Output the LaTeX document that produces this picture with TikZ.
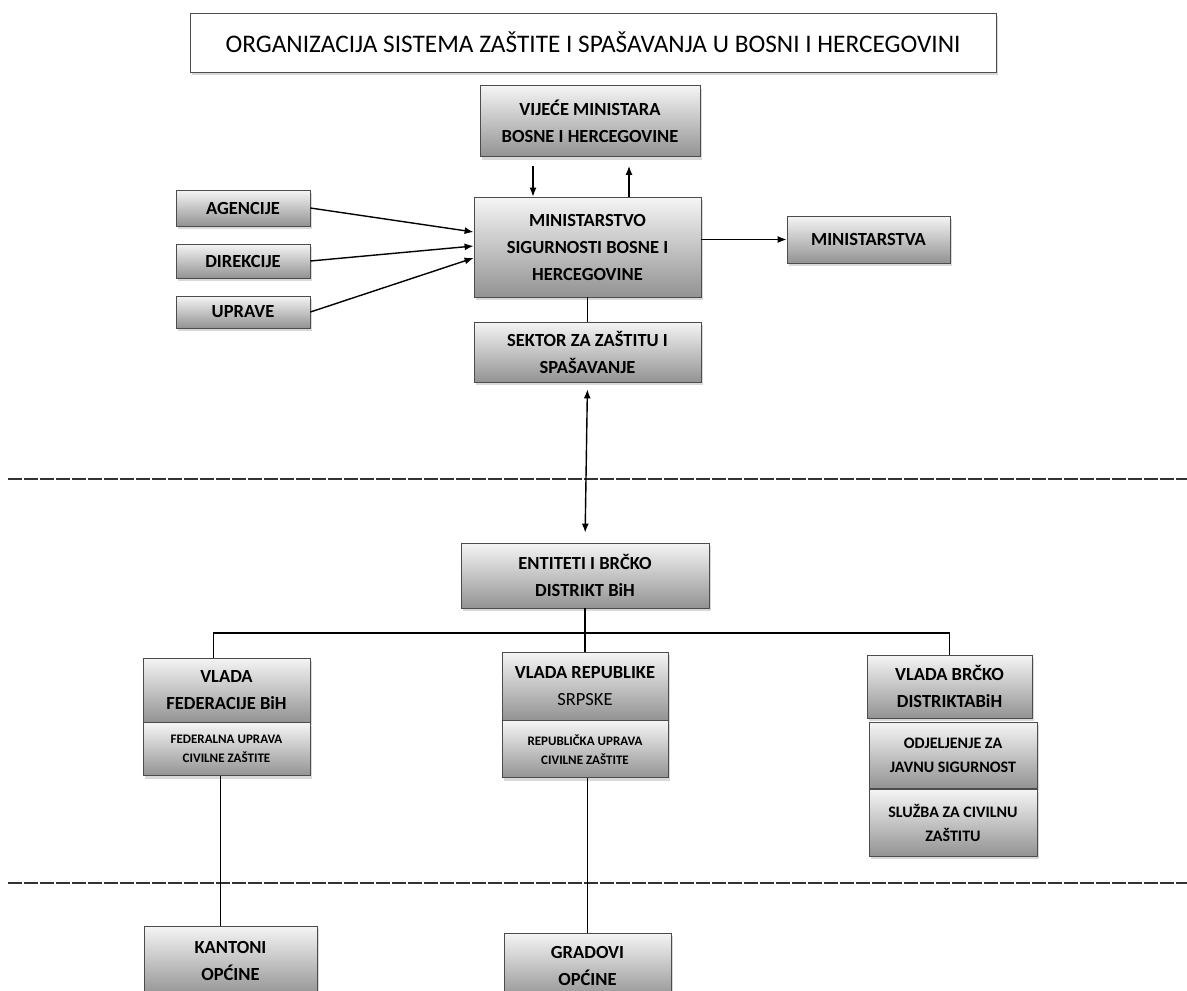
\documentclass[tikz,border=0pt]{standalone}
\usepackage{fontspec}
\setmainfont{Carlito}
\usetikzlibrary{shadows,arrows.meta}

\begin{document}
\begin{tikzpicture}[>={Latex[length=9pt,width=7pt]}, x=1pt, y=-1pt,
    box/.style={draw=gray!60!black, line width=0.8pt, top color=gray!8, bottom color=gray!85,
        drop shadow={shadow xshift=2pt, shadow yshift=-3pt, opacity=0.3},
        align=center, inner sep=2pt, font=\fontsize{18.5}{27}\selectfont\bfseries},
    subbox/.style={box, font=\fontsize{13}{19}\selectfont\bfseries},
    sepline/.style={line width=2.5pt, gray!40!black, dash pattern=on 14pt off 2pt},
    link/.style={line width=1.4pt}]
    \useasboundingbox (0,0) rectangle (1187,991);

    \node[draw=gray!60!black, line width=1pt, fill=white, drop shadow={shadow xshift=2pt, shadow yshift=-3pt, opacity=0.3},
        minimum width=806pt, minimum height=59pt, font=\fontsize{25.3}{30}\selectfont] (title) at (593,42.5)
        {ORGANIZACIJA SISTEMA ZAŠTITE I SPAŠAVANJA U BOSNI I HERCEGOVINI};

    \node[box, minimum width=220pt, minimum height=71pt] (vijece) at (590,121) {VIJEĆE MINISTARA\\BOSNE I HERCEGOVINE};
    \node[box, minimum width=227pt, minimum height=100pt] (min) at (587.5,247) {MINISTARSTVO\\SIGURNOSTI BOSNE I\\HERCEGOVINE};
    \node[box, minimum width=134pt, minimum height=36pt] (agen) at (243,208) {AGENCIJE};
    \node[box, minimum width=134pt, minimum height=34pt] (direk) at (243,261) {DIREKCIJE};
    \node[box, minimum width=134pt, minimum height=32pt] (uprave) at (243,312) {UPRAVE};
    \node[box, minimum width=163pt, minimum height=47pt] (minis) at (868.5,239.5) {MINISTARSTVA};
    \node[box, minimum width=227pt, minimum height=60pt] (sektor) at (587.5,352) {SEKTOR ZA ZAŠTITU I\\SPAŠAVANJE};
    \node[box, minimum width=248pt, minimum height=65pt] (ent) at (585,575.5) {ENTITETI I BRČKO\\DISTRIKT BiH};

    \node[box, minimum width=167pt, minimum height=64pt] (fed) at (226.5,690) {VLADA\\FEDERACIJE BiH};
    \node[subbox, minimum width=167pt, minimum height=53pt, anchor=north] (fedlow) at (fed.south) {FEDERALNA UPRAVA\\CIVILNE ZAŠTITE};
    \node[box, minimum width=166pt, minimum height=68pt] (rep) at (585,686) {VLADA REPUBLIKE\\{\mdseries SRPSKE}};
    \node[subbox, minimum width=166pt, minimum height=57pt, anchor=north] (replow) at (rep.south) {REPUBLIČKA UPRAVA\\CIVILNE ZAŠTITE};
    \node[box, minimum width=165pt, minimum height=63pt] (brc) at (949.5,686.5) {VLADA BRČKO\\DISTRIKTABiH};
    \node[subbox, font=\fontsize{16}{24}\selectfont\bfseries, minimum width=168pt, minimum height=66pt, anchor=north] (odj) at (953,722) {ODJELJENJE ZA\\JAVNU SIGURNOST};
    \node[subbox, font=\fontsize{16}{24}\selectfont\bfseries, minimum width=168pt, minimum height=67pt, anchor=north] (sluz) at (odj.south) {SLUŽBA ZA CIVILNU\\ZAŠTITU};

    \node[box, minimum width=173pt, minimum height=70pt] (kant) at (230.5,961) {KANTONI\\OPĆINE};
    \node[box, minimum width=167pt, minimum height=66pt] (grad) at (587.5,966) {GRADOVI\\OPĆINE};

    \draw[sepline] (8,479) -- (1187,479);
    \draw[sepline] (8,883) -- (1187,883);

    \draw[link,->,shorten <=9pt] ([xshift=-57pt]vijece.south) -- ([xshift=-57pt]vijece.south |- min.north);
    \draw[link,->,shorten >=9pt] ([xshift=41.5pt]min.north) -- ([xshift=41.5pt]min.north |- vijece.south);
    \draw[link,->] (agen.east) -- ([yshift=15pt]min.west);
    \draw[link,->] (direk.east) -- ([yshift=1pt]min.west);
    \draw[link,->] (uprave.east) -- ([yshift=-11pt]min.west);
    \draw[link,->] (min.east |- minis.west) -- (minis.west);
    \draw[link] (min.south) -- (sektor.north);
    \draw[link,<->,shorten <=7pt,shorten >=10pt] (sektor.south) -- (ent.north);

    \coordinate (bar) at (585,633);
    \draw[link] (ent.south) -- (rep.north);
    \draw[link] ([xshift=-13pt]fed.north) |- (bar) -| (brc.north);
    \draw[link] ([xshift=-10pt]kant.north) -- ([xshift=-10pt]kant.north |- fedlow.south);
    \draw[link] (grad.north) -- (grad.north |- replow.south);
\end{tikzpicture}
\end{document}
